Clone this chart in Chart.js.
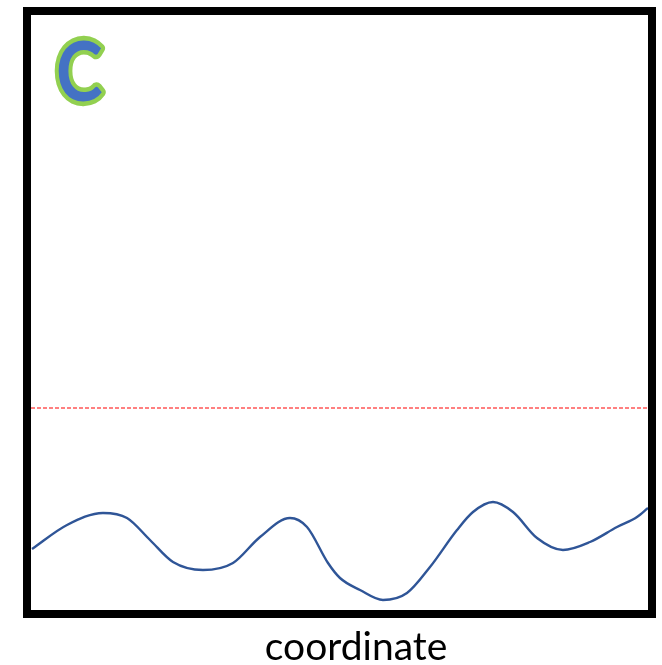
<!DOCTYPE html>
<html>
<head>
<meta charset="utf-8">
<script src="https://cdn.jsdelivr.net/npm/chart.js@4"></script>
<style>
    html, body { margin: 0; padding: 0; background: #fff; }
    #wrap { width: 662px; height: 665px; }
</style>
</head>
<body>
<div id="wrap"><canvas id="chart"></canvas></div>
<script>
// Curve (x along the coordinate, y as signal height)
const curveX = [1, 36, 72, 96, 119, 142, 172, 202, 229, 259, 276, 297, 309, 329, 352, 376, 399, 426, 442, 462, 482, 506, 532, 559, 586, 606, 617];
const curveY = [61, 85, 97, 92, 70, 48, 40, 47, 73, 92, 83, 47, 32, 20, 10, 17, 43, 80, 98, 108, 98, 72, 60, 68, 83, 93, 102];

// Threshold (red dashed line)
const thresholdX = [0, 617];
const thresholdY = 202;

const xRange = [0, 617];
const yRange = [0, 595];

const panelLabel = 'C';
const axisLabel = 'coordinate';

const framePlugin = {
    id: 'frame',
    afterDraw(chart) {
        const { ctx, chartArea: a } = chart;
        ctx.save();
        // thick black frame round the plot
        ctx.strokeStyle = '#000';
        ctx.lineWidth = 8;
        ctx.strokeRect(a.left - 4, a.top - 4, a.right - a.left + 8, a.bottom - a.top + 8);

        // axis label
        ctx.font = '39px Lato';
        ctx.fillStyle = '#000';
        ctx.textAlign = 'center';
        ctx.textBaseline = 'alphabetic';
        ctx.fillText(axisLabel, 356, 660);

        // panel letter (narrowed a bit, Calibri-like)
        ctx.translate(56, 101);
        ctx.scale(0.88, 1.03);
        ctx.font = 'bold 80px Lato';
        ctx.textAlign = 'left';
        ctx.lineJoin = 'round';
        ctx.strokeStyle = '#92D050';
        ctx.lineWidth = 9;
        ctx.strokeText(panelLabel, 0, 0);
        ctx.fillStyle = '#4472C4';
        ctx.fillText(panelLabel, 0, 0);
        ctx.restore();
    }
};

new Chart(document.getElementById('chart'), {
    type: 'line',
    data: {
        datasets: [
            {
                data: curveX.map((x, i) => ({ x, y: curveY[i] })),
                borderColor: '#2F5597',
                borderWidth: 2.4,
                pointRadius: 0,
                cubicInterpolationMode: 'monotone'
            },
            {
                data: thresholdX.map(x => ({ x, y: thresholdY })),
                borderColor: '#FF0000',
                borderWidth: 1,
                borderDash: [4, 2],
                pointRadius: 0
            }
        ]
    },
    options: {
        responsive: true,
        maintainAspectRatio: false,
        animation: false,
        layout: { padding: { left: 31, right: 14, top: 15, bottom: 55 } },
        plugins: { legend: { display: false }, tooltip: { enabled: false } },
        scales: {
            x: { type: 'linear', min: xRange[0], max: xRange[1], display: false },
            y: { type: 'linear', min: yRange[0], max: yRange[1], display: false }
        }
    },
    plugins: [framePlugin]
});
</script>
</body>
</html>
